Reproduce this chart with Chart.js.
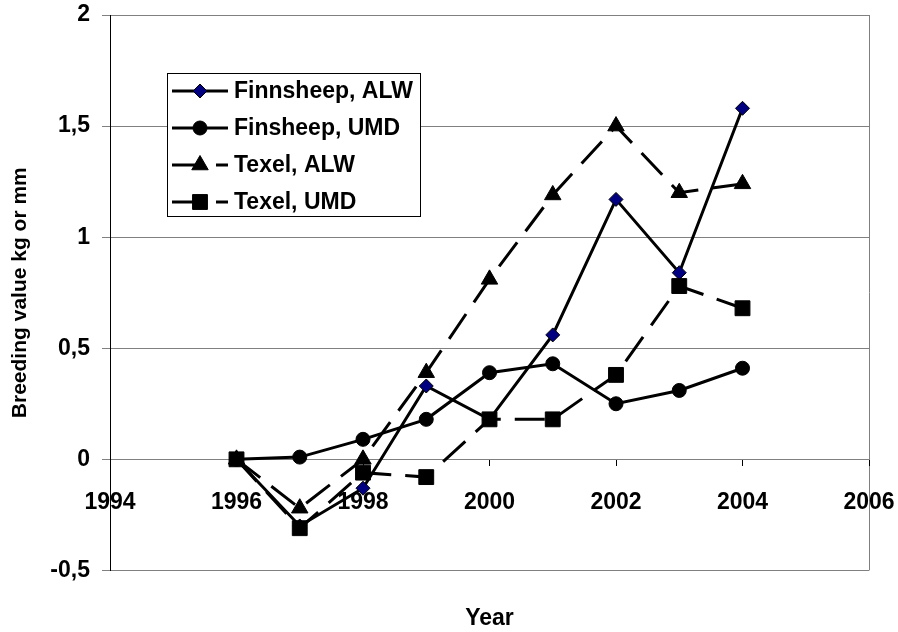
<!DOCTYPE html>
<html><head><meta charset="utf-8">
<script src="https://cdn.jsdelivr.net/npm/chart.js@4/dist/chart.umd.min.js"></script>
<style>html,body{margin:0;padding:0;background:#fff}</style>
</head><body>
<canvas id="c" width="898" height="632"></canvas>
<script>
const years = [1996, 1997, 1998, 1999, 2000, 2001, 2002, 2003, 2004];
const finnsheepALW = [0, -0.30, -0.13, 0.33, 0.18, 0.56, 1.17, 0.84, 1.58];
const finsheepUMD  = [0, 0.01, 0.09, 0.18, 0.39, 0.43, 0.25, 0.31, 0.41];
const texelALW     = [0, -0.22, 0.00, 0.39, 0.81, 1.19, 1.50, 1.20, 1.24];
const texelUMD     = [0, -0.31, -0.06, -0.08, 0.18, 0.18, 0.38, 0.78, 0.68];
const seriesNames  = ['Finnsheep, ALW', 'Finsheep, UMD', 'Texel, ALW', 'Texel, UMD'];
const xTickValues  = [1994, 1996, 1998, 2000, 2002, 2004, 2006];
const xTickLabels  = ['1994', '1996', '1998', '2000', '2002', '2004', '2006'];
const yTickValues  = [-0.5, 0, 0.5, 1, 1.5, 2];
const yTickLabels  = ['-0,5', '0', '0,5', '1', '1,5', '2'];

const FONT = '"Liberation Sans", Arial, sans-serif';
const DASH = [30, 14];

function pts(vals) { return years.map((y, i) => ({ x: y, y: vals[i] })); }

const datasets = [
  { label: seriesNames[0], data: pts(finnsheepALW), borderColor: '#000', borderWidth: 3,
    pointStyle: 'rectRot', pointRadius: 7, pointBackgroundColor: '#000080', pointBorderColor: '#000', pointBorderWidth: 1, order: 3 },
  { label: seriesNames[1], data: pts(finsheepUMD), borderColor: '#000', borderWidth: 3,
    pointStyle: 'circle', pointRadius: 7, pointBackgroundColor: '#000', pointBorderColor: '#000', pointBorderWidth: 1, order: 2 },
  { label: seriesNames[2], data: pts(texelALW), borderColor: '#000', borderWidth: 3, borderDash: DASH,
    pointStyle: 'triangle', pointRadius: 9.5, pointBackgroundColor: '#000', pointBorderColor: '#000', pointBorderWidth: 1, order: 1 },
  { label: seriesNames[3], data: pts(texelUMD), borderColor: '#000', borderWidth: 3, borderDash: DASH,
    pointStyle: 'rect', pointRadius: 10.5, pointBackgroundColor: '#000', pointBorderColor: '#000', pointBorderWidth: 1, order: 0 }
];

const legendBox = {
  id: 'legendBox',
  afterDatasetsDraw(chart) {
    const ctx = chart.ctx;
    const ca = chart.chartArea;
    const x0 = ca.left + 57, y0 = 73, w = 253, h = 143;
    ctx.save();
    ctx.fillStyle = '#fff';
    ctx.fillRect(x0, y0, w, h);
    ctx.strokeStyle = '#000';
    ctx.lineWidth = 1;
    ctx.setLineDash([]);
    ctx.strokeRect(x0 + 0.5, y0 + 0.5, w, h);
    chart.data.datasets.forEach((ds, i) => {
      const y = y0 + 18 + i * 37;
      ctx.save();
      ctx.strokeStyle = ds.borderColor;
      ctx.lineWidth = ds.borderWidth;
      ctx.setLineDash(ds.borderDash || []);
      ctx.beginPath();
      ctx.moveTo(x0 + 5, y);
      ctx.lineTo(x0 + 61, y);
      ctx.stroke();
      ctx.setLineDash([]);
      ctx.fillStyle = ds.pointBackgroundColor;
      ctx.strokeStyle = ds.pointBorderColor;
      ctx.lineWidth = ds.pointBorderWidth;
      Chart.helpers.drawPoint(ctx, { pointStyle: ds.pointStyle, radius: ds.pointRadius, borderWidth: ds.pointBorderWidth, rotation: 0 }, x0 + 33, y);
      ctx.restore();
      ctx.fillStyle = '#000';
      ctx.font = 'bold 23px ' + FONT;
      ctx.textBaseline = 'middle';
      ctx.textAlign = 'left';
      ctx.fillText(ds.label, x0 + 67, y + 1);
    });
    ctx.restore();
  }
};

function zeroPad(s) { s.paddingLeft = 0; s.paddingRight = 0; s.paddingTop = 0; s.paddingBottom = 0; }

new Chart(document.getElementById('c'), {
  type: 'line',
  data: { datasets },
  options: {
    responsive: false,
    devicePixelRatio: 1,
    animation: false,
    layout: { padding: { left: 0, right: 29, top: 15, bottom: 0 } },
    elements: { line: { tension: 0 } },
    plugins: {
      legend: { display: false },
      tooltip: { enabled: false },
      title: {
        display: true, text: 'Year', position: 'bottom', fullSize: false,
        color: '#000', font: { family: FONT, size: 23, weight: 'bold' },
        padding: { top: 34, bottom: 0 }
      }
    },
    scales: {
      x: {
        type: 'linear',
        position: { y: 0 },
        min: 1994, max: 2006,
        afterBuildTicks: s => { s.ticks = xTickValues.map(v => ({ value: v })); },
        afterFit: s => { zeroPad(s); },
        ticks: {
          color: '#000', font: { family: FONT, size: 23, weight: 'bold' }, padding: 24,
          maxRotation: 0, autoSkip: false,
          callback: (v) => xTickLabels[xTickValues.indexOf(v)]
        },
        grid: {
          drawOnChartArea: true,
          color: c => (c.tick && c.tick.value === 2006) ? '#808080' : 'rgba(0,0,0,0)',
          tickColor: '#000', tickLength: 6, lineWidth: 1
        },
        border: { display: true, color: '#808080', width: 1 }
      },
      y: {
        min: -0.5, max: 2,
        afterBuildTicks: s => { s.ticks = yTickValues.map(v => ({ value: v })); },
        afterFit: s => { s.width = 110; zeroPad(s); },
        ticks: {
          color: '#000', font: { family: FONT, size: 23, weight: 'bold' }, padding: 12,
          callback: (v) => yTickLabels[yTickValues.indexOf(v)]
        },
        grid: { color: '#808080', tickColor: '#808080', tickLength: 8, lineWidth: 1 },
        border: { display: true, color: '#000', width: 1 },
        title: {
          display: true, text: 'Breeding value kg or mm', color: '#000',
          font: { family: FONT, size: 21, weight: 'bold' }, padding: { top: 8, bottom: 0 }
        }
      }
    }
  },
  plugins: [legendBox]
});
</script>
</body></html>
